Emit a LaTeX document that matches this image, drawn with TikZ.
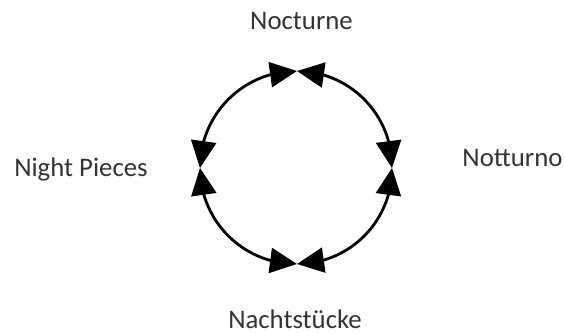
\documentclass[tikz,border=0pt]{standalone}
\usepackage{fontspec}
\setmainfont{Carlito}
\usepackage{tikz}
\usetikzlibrary{arrows.meta,bending,positioning}

\begin{document}
\begin{tikzpicture}[x=0.5pt,y=0.5pt,
  lbl/.style={font=\fontsize{13.4}{16}\selectfont, text=black!80, anchor=base, inner sep=0pt},
  cyc/.style={line width=1.4pt, {Triangle[length=13.5pt,width=12.5pt,flex]}-{Triangle[length=13.5pt,width=12.5pt,flex]}}]
\useasboundingbox (0,0) rectangle (565,332);
\coordinate (top) at (297,261);
\coordinate (rgt) at (392,164);
\coordinate (bot) at (297,68);
\coordinate (lft) at (200,164);
\node[lbl] (noct) at (301.5,302) {Nocturne};
\node[lbl] (nott) at (512.5,166) {Notturno};
\node[lbl] (night) at (81,156) {Night Pieces};
\node[lbl] (nacht) at (295,4) {Nachtstücke};
\draw[cyc] (lft) to[bend left=45] (top);
\draw[cyc] (top) to[bend left=45] (rgt);
\draw[cyc] (rgt) to[bend left=45] (bot);
\draw[cyc] (bot) to[bend left=45] (lft);
\end{tikzpicture}
\end{document}
